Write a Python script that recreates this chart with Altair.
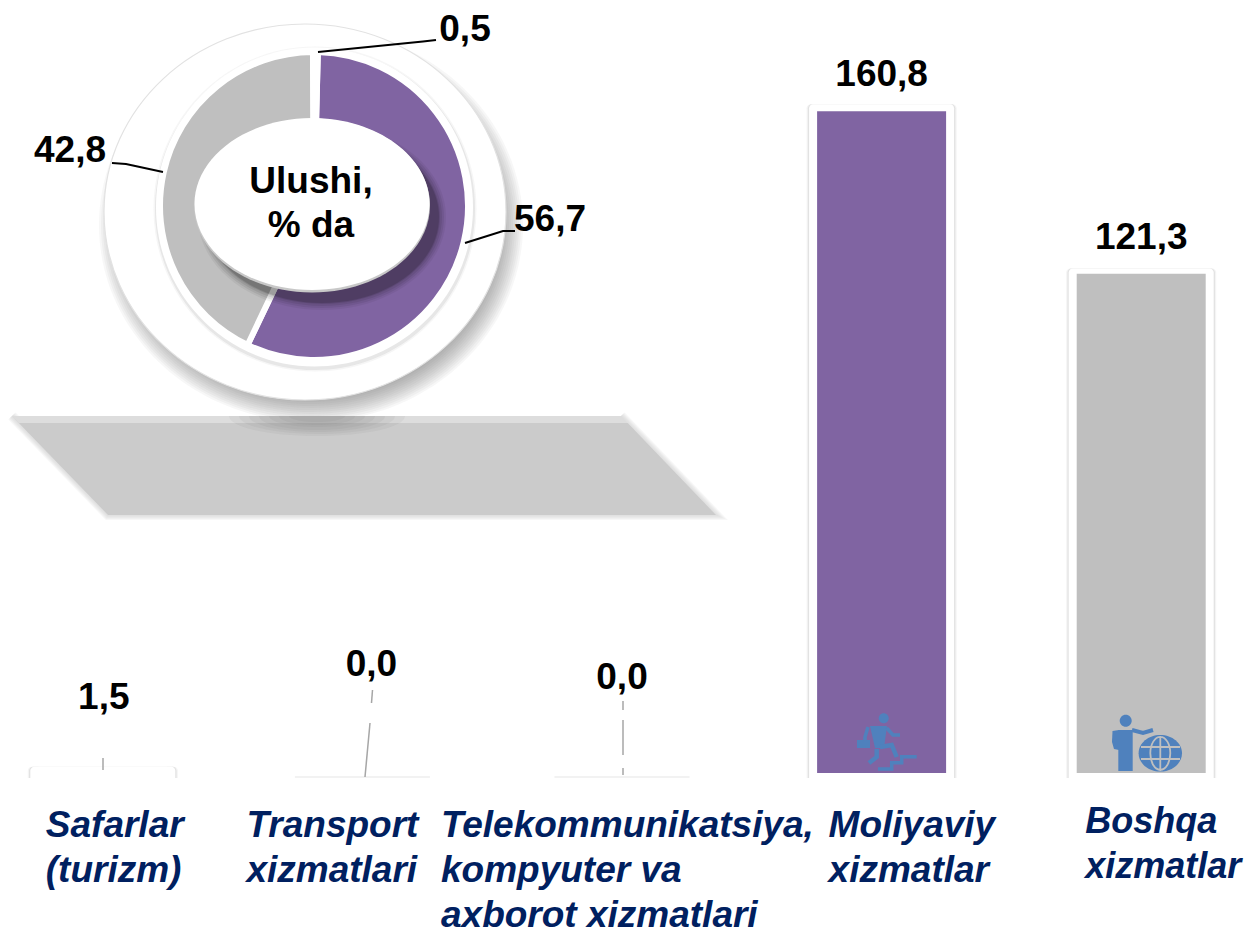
import altair as alt
import pandas as pd

# ---- data ----
categories = ["Safarlar (turizm)", "Transport xizmatlari",
              "Telekommunikatsiya, kompyuter va axborot xizmatlari",
              "Moliyaviy xizmatlar", "Boshqa xizmatlar"]
values = [1.5, 0.0, 0.0, 160.8, 121.3]
bar_colors = ["#ffffff", "#ffffff", "#ffffff", "#8064a2", "#bfbfbf"]

share_names = ["Moliyaviy xizmatlar", "Boshqa xizmatlar", "Safarlar (turizm)"]
share_values = [56.7, 42.8, 0.5]
share_colors = ["#8064a2", "#bfbfbf", "#ffffff"]

cat_lines = ["Safarlar\n(turizm)", "Transport\nxizmatlari",
             "Telekommunikatsiya,\nkompyuter va\naxborot xizmatlari",
             "Moliyaviy\nxizmatlar", "Boshqa\nxizmatlar"]

FONT = "Liberation Sans"
NAVY = "#002060"
ICON = "#4f81bd"


def comma(v):
    return f"{v:.1f}".replace(".", ",")


bars = pd.DataFrame({"cat": categories, "value": values, "color": bar_colors,
                     "label": [comma(v) for v in values], "wrapped": cat_lines})
shares = pd.DataFrame({"name": share_names, "share": share_values,
                       "color": share_colors, "idx": list(range(len(share_names))),
                       "label": [comma(v) for v in share_values]})
one = pd.DataFrame({"a": [0]})

x_enc = alt.X("cat:N", axis=None, sort=categories,
              scale=alt.Scale(domain=categories, range=[-35.0, 1263.0],
                              paddingInner=0, paddingOuter=0))
y_scale = alt.Scale(domain=[0, 185.9], range=[765, 0], nice=False)
y_enc = alt.Y("value:Q", axis=None, stack=None, scale=y_scale)
y_frame = alt.Y("frame:Q", axis=None, stack=None, scale=y_scale)


def shape(path, fill=None, stroke=None, sw=1.0, op=1.0):
    """Decoration drawn from an SVG path given in page pixels."""
    kw = dict(shape=path, size=4, opacity=op)
    if fill:
        kw.update(filled=True, fill=fill)
    else:
        kw.update(filled=False, fill="transparent")
    if stroke:
        kw.update(stroke=stroke, strokeWidth=sw)
    else:
        kw.update(strokeWidth=0)
    return alt.Chart(one).mark_point(**kw).encode(x=alt.value(-8), y=alt.value(-8))


def ell(cx, cy, rx, ry):
    return (f"M{cx-rx},{cy}A{rx},{ry} 0 1 1 {cx+rx},{cy}"
            f"A{rx},{ry} 0 1 1 {cx-rx},{cy}Z")


def circ(cx, cy, r):
    return ell(cx, cy, r, r)


def free_text(txt, px, py, size=37, **kw):
    return alt.Chart(one).mark_text(text=txt, font=FONT, fontWeight="bold", fontSize=size,
                                    color="#000000", **kw).encode(
        x=alt.value(px - 8), y=alt.value(py - 8))


layers = []

# soft shadow of the big disc
for g in range(22, -1, -2):
    layers.append(shape(ell(311, 225, 190 + g, 175 + g), fill="#666666", op=.05))

# floor shadow: soft on the left, bottom and right, crisp along the top
floor = "M12,416L621,416L716,515L108,515Z"
for w in [10, 8, 6, 4, 2]:
    layers.append(shape("M12,416L108,515L716,515L621,416", stroke="#cbcbcb", sw=w, op=.14))
layers.append(shape(floor, fill="#cbcbcb"))
layers.append(shape("M12,416L621,416L628,423L19,423Z", fill="#ffffff", op=.35))
# contact shadow on the floor
for rx, ry in [(88, 20), (78, 18), (68, 16), (58, 14), (48, 11), (38, 9), (28, 6)]:
    layers.append(shape(f"M{317-rx},416A{rx},{ry} 0 0 0 {317+rx},416Z", fill="#555555", op=.06))

# big disc and mid disc
layers.append(shape(ell(305, 212, 201, 188), fill="#ffffff", stroke="#e2e2e2", sw=1.2))
for g, a in [(3, .06), (1.5, .1)]:
    layers.append(shape(ell(315, 209, 158.5 + g, 159.5 + g), fill="#666666", op=a))
layers.append(shape(ell(314.5, 207, 158.5, 159.5), fill="#ffffff"))

# ring
arc = alt.Chart(shares).mark_arc(innerRadius=70, outerRadius=154, stroke="#ffffff",
                                 strokeWidth=6).encode(
    theta=alt.Theta("share:Q", stack=True,
                    scale=alt.Scale(domain=[0, 100], range=[0.025, 6.308])),
    color=alt.Color("color:N", scale=None, legend=None),
    order=alt.Order("idx:Q"),
    x=alt.value(314 - 8), y=alt.value(206 - 8))
layers.append(arc)

# centre cap
for g, a in [(7, .05), (5, .07), (3, .08), (1, .1), (0, .14)]:
    layers.append(shape(ell(322, 217, 117 + g, 86 + g), fill="#000000", op=a))
layers.append(shape(ell(312, 205.5, 118, 87), fill="#c8c8c8"))
layers.append(shape(ell(312, 204, 117.5, 86), fill="#ffffff"))

# donut leaders and labels
for p in ["M318,52L423,41.5L436,40", "M112,163L126,164L163,172", "M465,243L503,231L515,231"]:
    layers.append(shape(p, stroke="#000000", sw=2))
layers.append(free_text(comma(share_values[2]), 465, 30))
layers.append(free_text(comma(share_values[1]), 70, 151))
layers.append(free_text(comma(share_values[0]), 550, 220))
layers.append(free_text("Ulushi,", 311, 182))
layers.append(free_text("% da", 311, 226))

# bar frames
framed = alt.Chart(bars).transform_filter("datum.value > 1").transform_calculate(
    frame="datum.value * 1.0106")
for w, col in [(150, "#f4f4f4"), (147.5, "#e2e2e2"), (145, "#ffffff")]:
    layers.append(framed.mark_bar(size=w, fill=col, cornerRadiusTopLeft=4,
                                  cornerRadiusTopRight=4).encode(
        x=x_enc, y=y_frame, y2=alt.value(770)))
layers.append(alt.Chart(bars).transform_filter("datum.value == 0").mark_tick(
    orient="horizontal", size=135, thickness=2, color="#f2f2f2", opacity=1).encode(
    x=x_enc, y=alt.value(769)))

# bars
layers.append(alt.Chart(bars).mark_bar(size=129).encode(
    x=x_enc, y=y_enc, y2=alt.value(765),
    color=alt.Color("color:N", scale=None, legend=None)))

# leaders above small bars
for p in ["M103,758L103,770", "M372.5,690L371.5,703", "M370,723L365,777",
          "M623,701L623,710", "M623,720L623,755", "M623,768L623,775"]:
    layers.append(shape(p, stroke="#a6a6a6", sw=1.5))

# value labels (each lifted by its own leader length)
lifts = {categories[0]: (1, -69), categories[1]: (9, -108), categories[2]: (0, -95),
         categories[3]: (0, -36), categories[4]: (0, -36)}
for c, (dx, dy) in lifts.items():
    layers.append(alt.Chart(bars).transform_filter(alt.datum.cat == c).mark_text(
        font=FONT, fontWeight="bold", fontSize=37, color="#000000", dx=dx, dy=dy).encode(
        x=x_enc, y=y_enc, text="label:N"))

# category labels
places = {categories[0]: (-57, 808, 37), categories[1]: (-116, 808, 37),
          categories[2]: (-181, 808, 37), categories[3]: (-53, 808, 37),
          categories[4]: (-56, 805, 36)}
for c, (dx, py, fs) in places.items():
    layers.append(alt.Chart(bars).transform_filter(alt.datum.cat == c).mark_text(
        font=FONT, fontWeight="bold", fontStyle="italic", fontSize=fs, color=NAVY,
        align="left", baseline="top", lineBreak="\n", lineHeight=45, dx=dx).encode(
        x=x_enc, y=alt.value(py - 8), text="wrapped:N"))

# running-man icon
layers.append(shape(circ(883.7, 718.3, 5), fill=ICON))
layers.append(shape("M870,726L887,726L884,748L875,748Z", fill=ICON))
layers.append(shape("M857,740L870,740L870,748L857,748Z", fill=ICON))
for p, w in [("M886.7,728L893,735L900,735", 3.5), ("M868,727L865,737L865,741", 3.5),
             ("M880,747L891.7,745L896.7,757", 4.5), ("M876.7,749L876.7,757L869,763", 4.5),
             ("M878,769L891.7,769L891.7,762.7L901.7,762.7L901.7,756.7L916.7,756.7", 3.5)]:
    layers.append(shape(p, stroke=ICON, sw=w))

# person-and-globe icon
layers.append(shape(circ(1125.7, 720.7, 6), fill=ICON))
layers.append(shape("M1118.3,730L1132.7,730L1132.7,771L1118.3,771Z", fill=ICON))
layers.append(shape("M1112.5,731L1119,730L1119,750L1114,749L1112,742Z", fill=ICON))
layers.append(shape("M1132,730L1143,733L1153,730", stroke=ICON, sw=4))
layers.append(shape(ell(1160.3, 753.3, 21.7, 18.3), fill=ICON))
globe_lines = ("M1141,747L1180,747M1141,759L1180,759M1160.3,736L1160.3,771"
               + ell(1160.3, 753.3, 10, 16.5))
layers.append(shape(globe_lines, stroke="#bfbfbf", sw=1.8))

chart = alt.layer(*layers).properties(
    width=1239, height=922, padding=0,
    autosize=alt.AutoSizeParams(type="none"),
    background="#ffffff",
).configure_view(stroke=None)

chart.save("out.html", embed_options={"renderer": "svg", "actions": False})
